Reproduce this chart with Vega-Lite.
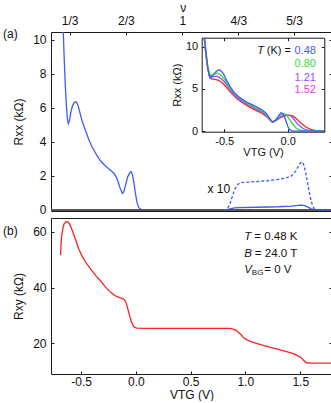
{
  "$schema": "https://vega.github.io/schema/vega-lite/v6.json",
  "autosize": {"type": "pad"},
  "padding": {"left": 2, "top": 0, "right": 0, "bottom": 0},
  "spacing": 0,
  "config": {
    "font": "Liberation Sans",
    "view": {"stroke": "#1a1a1a", "strokeWidth": 1},
    "axis": {"domain": false, "grid": false, "labelFont": "Liberation Sans", "titleFont": "Liberation Sans", "labelFontSize": 12, "titleFontSize": 12, "titleFontWeight": "normal", "labelColor": "#111", "titleColor": "#111", "tickColor": "#1a1a1a", "tickSize": -3, "labelPadding": 8, "labelFlush": false, "labelOverlap": false, "domainColor": "#1a1a1a"},
    "line": {"strokeWidth": 1.3},
    "text": {"font": "Liberation Sans", "fontSize": 12, "color": "#111"}
  },
  "datasets": {
    "rxx": [
      {"v": -0.668, "r": 11.5}, {"v": -0.663, "r": 10.5}, {"v": -0.655, "r": 9.0}, {"v": -0.645, "r": 7.4}, {"v": -0.635, "r": 6.2}, {"v": -0.626, "r": 5.4}, {"v": -0.617, "r": 5.08}, {"v": -0.607, "r": 5.25}, {"v": -0.595, "r": 5.7}, {"v": -0.58, "r": 6.1}, {"v": -0.562, "r": 6.33}, {"v": -0.545, "r": 6.37}, {"v": -0.528, "r": 6.15}, {"v": -0.51, "r": 5.7}, {"v": -0.49, "r": 5.2}, {"v": -0.47, "r": 4.85}, {"v": -0.45, "r": 4.5}, {"v": -0.43, "r": 4.15}, {"v": -0.4, "r": 3.7}, {"v": -0.36, "r": 3.25}, {"v": -0.322, "r": 2.88}, {"v": -0.28, "r": 2.6}, {"v": -0.24, "r": 2.38}, {"v": -0.2, "r": 2.15}, {"v": -0.18, "r": 1.95}, {"v": -0.164, "r": 1.7}, {"v": -0.145, "r": 1.3}, {"v": -0.124, "r": 0.98}, {"v": -0.112, "r": 1.05}, {"v": -0.095, "r": 1.45}, {"v": -0.075, "r": 1.95}, {"v": -0.055, "r": 2.2}, {"v": -0.042, "r": 2.25}, {"v": -0.03, "r": 2.05}, {"v": -0.018, "r": 1.6}, {"v": -0.005, "r": 1.0}, {"v": 0.01, "r": 0.45}, {"v": 0.025, "r": 0.15}, {"v": 0.045, "r": 0.04}, {"v": 0.07, "r": 0.01}, {"v": 0.3, "r": 0.0}, {"v": 0.6, "r": 0.0}, {"v": 0.8, "r": 0.01}, {"v": 0.84, "r": 0.03}, {"v": 0.87, "r": 0.08}, {"v": 0.9, "r": 0.12}, {"v": 0.95, "r": 0.14}, {"v": 1.1, "r": 0.16}, {"v": 1.3, "r": 0.19}, {"v": 1.42, "r": 0.23}, {"v": 1.48, "r": 0.27}, {"v": 1.51, "r": 0.29}, {"v": 1.54, "r": 0.26}, {"v": 1.57, "r": 0.17}, {"v": 1.6, "r": 0.07}, {"v": 1.63, "r": 0.02}, {"v": 1.66, "r": 0.0}, {"v": 1.79, "r": 0.0}
    ],
    "x10": [
      {"v": 0.8, "r": 0.0}, {"v": 0.83, "r": 0.02}, {"v": 0.855, "r": 0.3}, {"v": 0.88, "r": 0.8}, {"v": 0.905, "r": 1.25}, {"v": 0.93, "r": 1.5}, {"v": 0.95, "r": 1.6}, {"v": 1.0, "r": 1.63}, {"v": 1.1, "r": 1.67}, {"v": 1.2, "r": 1.72}, {"v": 1.3, "r": 1.8}, {"v": 1.37, "r": 1.88}, {"v": 1.42, "r": 2.0}, {"v": 1.46, "r": 2.3}, {"v": 1.49, "r": 2.65}, {"v": 1.51, "r": 2.84}, {"v": 1.53, "r": 2.7}, {"v": 1.55, "r": 2.2}, {"v": 1.57, "r": 1.5}, {"v": 1.59, "r": 0.8}, {"v": 1.61, "r": 0.3}, {"v": 1.63, "r": 0.06}, {"v": 1.66, "r": 0.0}, {"v": 1.79, "r": 0.0}
    ],
    "rxy": [
      {"v": -0.688, "r": 51.6}, {"v": -0.684, "r": 55.0}, {"v": -0.679, "r": 58.1}, {"v": -0.668, "r": 61.0}, {"v": -0.657, "r": 62.8}, {"v": -0.64, "r": 63.6}, {"v": -0.624, "r": 63.7}, {"v": -0.61, "r": 63.2}, {"v": -0.596, "r": 62.0}, {"v": -0.575, "r": 60.0}, {"v": -0.551, "r": 57.3}, {"v": -0.521, "r": 53.9}, {"v": -0.49, "r": 51.2}, {"v": -0.459, "r": 49.2}, {"v": -0.42, "r": 47.0}, {"v": -0.368, "r": 44.4}, {"v": -0.32, "r": 42.3}, {"v": -0.277, "r": 40.2}, {"v": -0.23, "r": 38.3}, {"v": -0.185, "r": 37.0}, {"v": -0.15, "r": 36.4}, {"v": -0.12, "r": 36.1}, {"v": -0.1, "r": 35.4}, {"v": -0.085, "r": 34.0}, {"v": -0.07, "r": 31.8}, {"v": -0.055, "r": 29.5}, {"v": -0.04, "r": 27.6}, {"v": -0.025, "r": 26.3}, {"v": -0.01, "r": 25.7}, {"v": 0.01, "r": 25.45}, {"v": 0.1, "r": 25.4}, {"v": 0.5, "r": 25.4}, {"v": 0.85, "r": 25.35}, {"v": 0.88, "r": 25.2}, {"v": 0.9, "r": 24.9}, {"v": 0.93, "r": 24.2}, {"v": 0.956, "r": 23.3}, {"v": 0.98, "r": 22.2}, {"v": 1.0, "r": 21.5}, {"v": 1.05, "r": 20.6}, {"v": 1.1, "r": 20.0}, {"v": 1.2, "r": 18.8}, {"v": 1.3, "r": 17.8}, {"v": 1.4, "r": 16.8}, {"v": 1.443, "r": 16.2}, {"v": 1.48, "r": 15.5}, {"v": 1.504, "r": 15.0}, {"v": 1.53, "r": 13.9}, {"v": 1.55, "r": 13.2}, {"v": 1.57, "r": 12.95}, {"v": 1.6, "r": 12.9}, {"v": 1.79, "r": 12.9}
    ],
    "inset": [
      {"T": "1.52", "v": -0.659, "r": 11.1}, {"T": "1.52", "v": -0.645, "r": 9.0}, {"T": "1.52", "v": -0.63, "r": 7.3}, {"T": "1.52", "v": -0.615, "r": 6.5}, {"T": "1.52", "v": -0.6, "r": 6.2}, {"T": "1.52", "v": -0.575, "r": 6.15}, {"T": "1.52", "v": -0.55, "r": 6.05}, {"T": "1.52", "v": -0.52, "r": 5.8}, {"T": "1.52", "v": -0.5, "r": 5.5}, {"T": "1.52", "v": -0.45, "r": 4.6}, {"T": "1.52", "v": -0.4, "r": 3.85}, {"T": "1.52", "v": -0.35, "r": 3.3}, {"T": "1.52", "v": -0.3, "r": 2.85}, {"T": "1.52", "v": -0.25, "r": 2.45}, {"T": "1.52", "v": -0.2, "r": 2.1}, {"T": "1.52", "v": -0.165, "r": 1.7}, {"T": "1.52", "v": -0.14, "r": 1.3}, {"T": "1.52", "v": -0.12, "r": 1.08}, {"T": "1.52", "v": -0.09, "r": 1.3}, {"T": "1.52", "v": -0.05, "r": 1.65}, {"T": "1.52", "v": -0.01, "r": 1.85}, {"T": "1.52", "v": 0.03, "r": 1.85}, {"T": "1.52", "v": 0.06, "r": 1.6}, {"T": "1.52", "v": 0.1, "r": 1.0}, {"T": "1.52", "v": 0.14, "r": 0.5}, {"T": "1.52", "v": 0.18, "r": 0.2}, {"T": "1.52", "v": 0.22, "r": 0.05}, {"T": "1.52", "v": 0.25, "r": 0.0}, {"T": "1.52", "v": 0.285, "r": 0.0},
      {"T": "1.21", "v": -0.658, "r": 11.1}, {"T": "1.21", "v": -0.645, "r": 9.2}, {"T": "1.21", "v": -0.63, "r": 7.5}, {"T": "1.21", "v": -0.615, "r": 6.7}, {"T": "1.21", "v": -0.6, "r": 6.45}, {"T": "1.21", "v": -0.575, "r": 6.5}, {"T": "1.21", "v": -0.555, "r": 6.5}, {"T": "1.21", "v": -0.53, "r": 6.3}, {"T": "1.21", "v": -0.5, "r": 5.9}, {"T": "1.21", "v": -0.45, "r": 4.8}, {"T": "1.21", "v": -0.4, "r": 4.0}, {"T": "1.21", "v": -0.35, "r": 3.45}, {"T": "1.21", "v": -0.3, "r": 3.0}, {"T": "1.21", "v": -0.25, "r": 2.6}, {"T": "1.21", "v": -0.2, "r": 2.25}, {"T": "1.21", "v": -0.165, "r": 1.8}, {"T": "1.21", "v": -0.14, "r": 1.35}, {"T": "1.21", "v": -0.12, "r": 1.05}, {"T": "1.21", "v": -0.09, "r": 1.3}, {"T": "1.21", "v": -0.05, "r": 1.75}, {"T": "1.21", "v": -0.01, "r": 1.95}, {"T": "1.21", "v": 0.02, "r": 1.85}, {"T": "1.21", "v": 0.05, "r": 1.4}, {"T": "1.21", "v": 0.08, "r": 0.8}, {"T": "1.21", "v": 0.12, "r": 0.3}, {"T": "1.21", "v": 0.16, "r": 0.08}, {"T": "1.21", "v": 0.2, "r": 0.01}, {"T": "1.21", "v": 0.285, "r": 0.0},
      {"T": "0.80", "v": -0.657, "r": 11.1}, {"T": "0.80", "v": -0.645, "r": 9.3}, {"T": "0.80", "v": -0.63, "r": 7.6}, {"T": "0.80", "v": -0.615, "r": 6.8}, {"T": "0.80", "v": -0.6, "r": 6.6}, {"T": "0.80", "v": -0.575, "r": 6.8}, {"T": "0.80", "v": -0.555, "r": 6.9}, {"T": "0.80", "v": -0.535, "r": 6.75}, {"T": "0.80", "v": -0.5, "r": 6.2}, {"T": "0.80", "v": -0.45, "r": 5.0}, {"T": "0.80", "v": -0.4, "r": 4.2}, {"T": "0.80", "v": -0.35, "r": 3.6}, {"T": "0.80", "v": -0.3, "r": 3.15}, {"T": "0.80", "v": -0.25, "r": 2.75}, {"T": "0.80", "v": -0.2, "r": 2.35}, {"T": "0.80", "v": -0.165, "r": 1.9}, {"T": "0.80", "v": -0.14, "r": 1.4}, {"T": "0.80", "v": -0.12, "r": 1.05}, {"T": "0.80", "v": -0.095, "r": 1.3}, {"T": "0.80", "v": -0.065, "r": 1.8}, {"T": "0.80", "v": -0.035, "r": 2.05}, {"T": "0.80", "v": -0.01, "r": 1.95}, {"T": "0.80", "v": 0.01, "r": 1.5}, {"T": "0.80", "v": 0.04, "r": 0.8}, {"T": "0.80", "v": 0.07, "r": 0.3}, {"T": "0.80", "v": 0.1, "r": 0.1}, {"T": "0.80", "v": 0.14, "r": 0.02}, {"T": "0.80", "v": 0.285, "r": 0.0},
      {"T": "0.48", "v": -0.655, "r": 11.1}, {"T": "0.48", "v": -0.645, "r": 9.5}, {"T": "0.48", "v": -0.63, "r": 7.6}, {"T": "0.48", "v": -0.62, "r": 6.6}, {"T": "0.48", "v": -0.611, "r": 6.27}, {"T": "0.48", "v": -0.595, "r": 6.5}, {"T": "0.48", "v": -0.57, "r": 7.0}, {"T": "0.48", "v": -0.55, "r": 7.25}, {"T": "0.48", "v": -0.534, "r": 7.26}, {"T": "0.48", "v": -0.51, "r": 6.9}, {"T": "0.48", "v": -0.48, "r": 6.0}, {"T": "0.48", "v": -0.45, "r": 5.2}, {"T": "0.48", "v": -0.421, "r": 4.56}, {"T": "0.48", "v": -0.38, "r": 4.0}, {"T": "0.48", "v": -0.316, "r": 3.37}, {"T": "0.48", "v": -0.26, "r": 3.0}, {"T": "0.48", "v": -0.211, "r": 2.58}, {"T": "0.48", "v": -0.175, "r": 2.2}, {"T": "0.48", "v": -0.145, "r": 1.6}, {"T": "0.48", "v": -0.12, "r": 1.05}, {"T": "0.48", "v": -0.1, "r": 1.2}, {"T": "0.48", "v": -0.075, "r": 1.7}, {"T": "0.48", "v": -0.053, "r": 2.18}, {"T": "0.48", "v": -0.04, "r": 2.1}, {"T": "0.48", "v": -0.025, "r": 1.7}, {"T": "0.48", "v": -0.013, "r": 1.19}, {"T": "0.48", "v": 0.0, "r": 0.6}, {"T": "0.48", "v": 0.013, "r": 0.2}, {"T": "0.48", "v": 0.03, "r": 0.05}, {"T": "0.48", "v": 0.05, "r": 0.0}, {"T": "0.48", "v": 0.285, "r": 0.0}
    ]
  },
  "resolve": {"scale": {"x": "independent", "y": "independent"}},
  "vconcat": [
    {
      "width": 281,
      "height": 179,
      "resolve": {"scale": {"x": "independent", "y": "independent"}},
      "layer": [
        {
          "layer": [
            {
              "data": {"name": "rxx"},
              "mark": {"type": "line", "color": "#3c5cff", "clip": true},
              "encoding": {
                "x": {"field": "v", "type": "quantitative", "scale": {"domain": [-0.775, 1.79], "nice": false, "zero": false},
                  "axis": {"orient": "top", "values": [-0.605, -0.091, 0.423, 0.935, 1.443], "labelExpr": "datum.value < -0.3 ? '1/3' : datum.value < 0.2 ? '2/3' : datum.value < 0.7 ? '1' : datum.value < 1.2 ? '4/3' : '5/3'", "title": "ν", "labelPadding": 8, "titlePadding": 0, "titleX": 131.7, "titleY": -21, "titleBaseline": "alphabetic", "titleAlign": "center"}},
                "y": {"field": "r", "type": "quantitative", "scale": {"domain": [-0.06, 10.47], "nice": false, "zero": false},
                  "axis": {"orient": "left", "values": [0, 2, 4, 6, 8, 10], "title": "Rxx (kΩ)", "titlePadding": 7}}
              }
            },
            {
              "data": {"values": [{}]},
              "mark": {"type": "rule", "color": "#555555", "strokeWidth": 2},
              "encoding": {
                "y": {"datum": 0, "type": "quantitative", "axis": {"orient": "right", "values": [0, 2, 4, 6, 8, 10], "labels": false, "title": null}}
              }
            },
            {
              "data": {"name": "x10"},
              "mark": {"type": "line", "color": "#3c5cff", "strokeDash": [3, 2], "clip": true},
              "encoding": {
                "x": {"field": "v", "type": "quantitative"},
                "y": {"field": "r", "type": "quantitative", "axis": null}
              }
            },
            {
              "data": {"values": [{}]},
              "mark": {"type": "text", "align": "center", "baseline": "middle", "fontSize": 12},
              "encoding": {
                "x": {"datum": 0.757, "type": "quantitative"},
                "y": {"datum": 1.24, "type": "quantitative", "axis": null},
                "text": {"value": "x 10"}
              }
            },
            {
              "data": {"values": [{}]},
              "mark": {"type": "text", "align": "left", "baseline": "middle", "fontSize": 12, "dx": -48, "dy": 2},
              "encoding": {
                "x": {"datum": -0.775, "type": "quantitative"},
                "y": {"datum": 10.47, "type": "quantitative", "axis": null},
                "text": {"value": "(a)"}
              }
            }
          ]
        },
        {
          "layer": [
            {
              "data": {"name": "inset"},
              "mark": {"type": "line"},
              "encoding": {
                "x": {"field": "v", "type": "quantitative", "scale": {"domain": [-0.678, 0.289], "range": [150.7, 273.3], "nice": false, "zero": false},
                  "axis": {"orient": "bottom", "offset": -79.3, "values": [-0.5, 0], "labelExpr": "datum.value < 0 ? '-' + format(-datum.value, '.1f') : format(datum.value, '.1f')", "title": "VTG (V)", "domain": true, "labelFontSize": 11, "titleFontSize": 11, "labelPadding": 7, "titlePadding": 0}},
                "y": {"field": "r", "type": "quantitative", "scale": {"domain": [-0.08, 11.1], "range": [99.7, 5.7], "nice": false, "zero": false},
                  "axis": {"orient": "left", "offset": -150.7, "values": [0, 5, 10], "title": "Rxx (kΩ)", "domain": true, "labelFontSize": 11, "titleFontSize": 11, "labelPadding": 7, "titlePadding": 3}},
                "stroke": {"field": "T", "type": "nominal", "scale": {"domain": ["0.48", "0.80", "1.21", "1.52"], "range": ["#3c5cff", "#33dd33", "#9b4dff", "#ff2222"]}, "legend": null}
              }
            },
            {
              "data": {"values": [{}]},
              "mark": {"type": "text", "align": "right", "baseline": "middle", "fontSize": 11},
              "encoding": {
                "x": {"datum": 0.026, "type": "quantitative", "axis": {"orient": "top", "offset": -5.7, "labels": false, "title": null, "domain": true, "values": [-0.5, 0]}},
                "y": {"datum": 9.52, "type": "quantitative", "axis": {"orient": "right", "offset": -7.7, "labels": false, "title": null, "domain": true, "values": [0, 5, 10]}},
                "text": {"value": "(K) ="}
              }
            },
            {
              "data": {"values": [{}]},
              "mark": {"type": "text", "align": "right", "baseline": "middle", "fontSize": 11, "fontStyle": "italic", "dx": -27},
              "encoding": {
                "x": {"datum": 0.026, "type": "quantitative", "axis": null},
                "y": {"datum": 9.52, "type": "quantitative", "axis": null},
                "text": {"value": "T"}
              }
            },
            {
              "data": {"values": [{}]},
              "mark": {"type": "text", "align": "right", "baseline": "middle", "fontSize": 11, "color": "#3c5cff"},
              "encoding": {
                "x": {"datum": 0.223, "type": "quantitative", "axis": null},
                "y": {"datum": 9.52, "type": "quantitative", "axis": null},
                "text": {"value": "0.48"}
              }
            },
            {
              "data": {"values": [{}]},
              "mark": {"type": "text", "align": "right", "baseline": "middle", "fontSize": 11, "color": "#33dd33"},
              "encoding": {
                "x": {"datum": 0.223, "type": "quantitative", "axis": null},
                "y": {"datum": 7.94, "type": "quantitative", "axis": null},
                "text": {"value": "0.80"}
              }
            },
            {
              "data": {"values": [{}]},
              "mark": {"type": "text", "align": "right", "baseline": "middle", "fontSize": 11, "color": "#9b4dff"},
              "encoding": {
                "x": {"datum": 0.223, "type": "quantitative", "axis": null},
                "y": {"datum": 6.35, "type": "quantitative", "axis": null},
                "text": {"value": "1.21"}
              }
            },
            {
              "data": {"values": [{}]},
              "mark": {"type": "text", "align": "right", "baseline": "middle", "fontSize": 11, "color": "#ff33cc"},
              "encoding": {
                "x": {"datum": 0.223, "type": "quantitative", "axis": null},
                "y": {"datum": 4.85, "type": "quantitative", "axis": null},
                "text": {"value": "1.52"}
              }
            }
          ]
        }
      ]
    },
    {
      "width": 281,
      "height": 156,
      "layer": [
        {
          "data": {"name": "rxy"},
          "mark": {"type": "line", "color": "#ff2222"},
          "encoding": {
            "x": {"field": "v", "type": "quantitative", "scale": {"domain": [-0.775, 1.79], "nice": false, "zero": false},
              "axis": {"orient": "bottom", "values": [-0.5, 0, 0.5, 1, 1.5], "labelExpr": "datum.value < 0 ? '-' + format(-datum.value, '.1f') : format(datum.value, '.1f')", "title": "VTG (V)", "labelPadding": 5, "titlePadding": 2}},
            "y": {"field": "r", "type": "quantitative", "scale": {"domain": [9, 65], "nice": false, "zero": false},
              "axis": {"orient": "left", "values": [20, 40, 60], "title": "Rxy (kΩ)", "titlePadding": 7}}
          }
        },
        {
          "data": {"values": [{}]},
          "mark": {"type": "text", "align": "left", "baseline": "middle", "fontSize": 12, "dx": -48, "dy": 13},
          "encoding": {
            "x": {"datum": -0.775, "type": "quantitative"},
            "y": {"datum": 65, "type": "quantitative", "axis": {"orient": "right", "values": [20, 40, 60], "labels": false, "title": null}},
            "text": {"value": "(b)"}
          }
        },
        {
          "data": {"values": [{}]},
          "mark": {"type": "text", "align": "left", "baseline": "middle", "fontSize": 11.5, "fontStyle": "italic"},
          "encoding": {
            "x": {"datum": 0.99, "type": "quantitative"},
            "y": {"datum": 58.2, "type": "quantitative", "axis": null},
            "text": {"value": "T"}
          }
        },
        {
          "data": {"values": [{}]},
          "mark": {"type": "text", "align": "left", "baseline": "middle", "fontSize": 11.5, "dx": 10},
          "encoding": {
            "x": {"datum": 0.99, "type": "quantitative"},
            "y": {"datum": 58.2, "type": "quantitative", "axis": null},
            "text": {"value": "= 0.48 K"}
          }
        },
        {
          "data": {"values": [{}]},
          "mark": {"type": "text", "align": "left", "baseline": "middle", "fontSize": 11.5, "fontStyle": "italic"},
          "encoding": {
            "x": {"datum": 0.99, "type": "quantitative"},
            "y": {"datum": 52.1, "type": "quantitative", "axis": null},
            "text": {"value": "B"}
          }
        },
        {
          "data": {"values": [{}]},
          "mark": {"type": "text", "align": "left", "baseline": "middle", "fontSize": 11.5, "dx": 10.5},
          "encoding": {
            "x": {"datum": 0.99, "type": "quantitative"},
            "y": {"datum": 52.1, "type": "quantitative", "axis": null},
            "text": {"value": "= 24.0 T"}
          }
        },
        {
          "data": {"values": [{}]},
          "mark": {"type": "text", "align": "left", "baseline": "middle", "fontSize": 11.5, "fontStyle": "italic"},
          "encoding": {
            "x": {"datum": 0.99, "type": "quantitative"},
            "y": {"datum": 46.2, "type": "quantitative", "axis": null},
            "text": {"value": "V"}
          }
        },
        {
          "data": {"values": [{}]},
          "mark": {"type": "text", "align": "left", "baseline": "middle", "fontSize": 8, "dx": 7.5, "dy": 3},
          "encoding": {
            "x": {"datum": 0.99, "type": "quantitative"},
            "y": {"datum": 46.2, "type": "quantitative", "axis": null},
            "text": {"value": "BG"}
          }
        },
        {
          "data": {"values": [{}]},
          "mark": {"type": "text", "align": "left", "baseline": "middle", "fontSize": 11.5, "dx": 20},
          "encoding": {
            "x": {"datum": 0.99, "type": "quantitative"},
            "y": {"datum": 46.2, "type": "quantitative", "axis": null},
            "text": {"value": "= 0 V"}
          }
        }
      ]
    }
  ]
}
